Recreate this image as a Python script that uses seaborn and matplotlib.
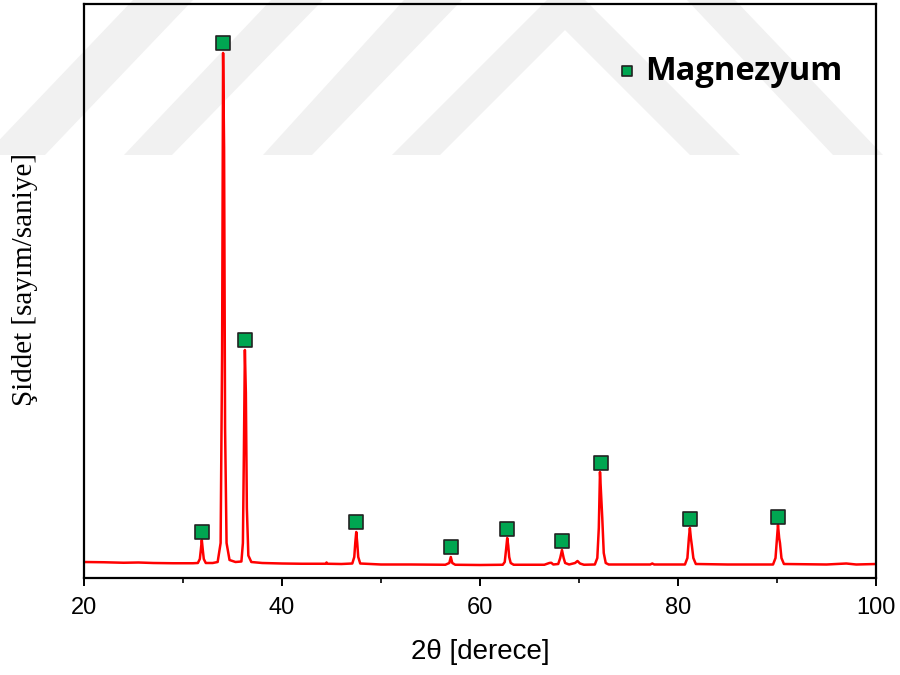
import seaborn as sns
import pandas as pd
import matplotlib.pyplot as plt
from matplotlib.patches import Polygon
from matplotlib.ticker import MultipleLocator

# XRD trace (2theta in degrees, counts per second)
two_theta = [20.0, 22.0, 24.0, 25.5, 27.0, 29.0, 31.0, 31.5, 31.7, 31.8, 31.9, 32.0, 32.1, 32.3,
             33.0, 33.5, 33.8, 33.95, 34.05, 34.15, 34.25, 34.4, 34.7, 35.3, 35.9, 36.05, 36.15,
             36.25, 36.35, 36.45, 36.6, 36.9, 38.0, 40.0, 42.0, 44.4, 44.5, 44.6, 46.0, 47.1,
             47.3, 47.4, 47.5, 47.6, 47.7, 47.9, 50.0, 53.0, 56.5, 56.9, 57.05, 57.2, 57.5, 60.0,
             62.3, 62.5, 62.65, 62.75, 62.85, 62.95, 63.1, 63.4, 66.5, 67.0, 67.2, 67.4, 67.9,
             68.1, 68.28, 68.45, 68.6, 69.0, 69.6, 69.85, 70.1, 70.5, 71.6, 71.85, 72.0, 72.12,
             72.25, 72.35, 72.5, 72.7, 73.0, 77.2, 77.4, 77.6, 80.7, 80.95, 81.1, 81.2, 81.3,
             81.4, 81.55, 81.8, 85.0, 89.6, 89.85, 90.0, 90.1, 90.22, 90.3, 90.45, 90.7, 95.0,
             97.0, 98.0, 100.0]
intensity = [320, 315, 305, 310, 300, 295, 295, 300, 380, 560, 760, 560, 380, 300,
             300, 320, 700, 4500, 10500, 8600, 3000, 700, 360, 320, 330, 700, 2500,
             4560, 3700, 1400, 450, 320, 300, 290, 285, 285, 310, 285, 280, 290,
             420, 700, 920, 700, 420, 290, 270, 270, 265, 300, 420, 300, 265, 260,
             265, 320, 600, 800, 650, 420, 300, 265, 265, 300, 305, 270, 280,
             400, 560, 400, 300, 270, 300, 340, 290, 265, 270, 400, 1000, 2120,
             1600, 1200, 500, 300, 270, 270, 290, 270, 270, 400, 800, 1000, 800,
             650, 400, 280, 270, 270, 400, 800, 1060, 800, 700, 400, 280, 270,
             290, 270, 280]

# Magnesium peak markers
mg_peaks = [31.9, 34.07, 36.26, 47.47, 57.07, 62.73, 68.28, 72.22, 81.21, 90.1]
mg_marks = [920, 10700, 4760, 1120, 620, 980, 740, 2300, 1180, 1220]

df = pd.DataFrame({'2theta': two_theta, 'I': intensity})
peaks = pd.DataFrame({'2theta': mg_peaks, 'I': mg_marks})

sns.set_style('ticks')
plt.rcParams['font.family'] = ['Liberation Sans', 'DejaVu Sans']

fig = plt.figure(figsize=(9, 6.75), dpi=100)
ax = fig.add_axes([84 / 900, 97 / 675, 792 / 900, 574 / 675])
ax.set_facecolor('none')

# faint watermark stripes behind the plot (pixel coords, y from top)
W, H = 900, 675
shapes = [
    [(133, 0), (193, 0), (45, 155), (-15, 155)],
    [(271, 0), (323, 0), (172, 155), (124, 155)],
    [(404, 0), (462, 0), (312, 155), (263, 155)],
    [(392, 155), (566, -19), (740, 155), (690, 155), (565, 30), (440, 155)],
    [(687, 0), (735, 0), (883, 155), (833, 155)],
]
for s in shapes:
    pts = [(x / W, 1 - y / H) for x, y in s]
    fig.patches.append(Polygon(pts, closed=True, transform=fig.transFigure,
                               facecolor='#f1f1f1', edgecolor='none', zorder=-5))

sns.lineplot(data=df, x='2theta', y='I', ax=ax, color='#ff0000', linewidth=1.8, zorder=2)
sns.scatterplot(data=peaks, x='2theta', y='I', ax=ax, marker='s', s=90, color='#00a651',
                edgecolor='#222222', linewidth=1.2, zorder=3, label='Magnezyum')

ax.set_xlim(20, 100)
ax.set_ylim(0, 11480)
ax.xaxis.set_major_locator(MultipleLocator(20))
ax.xaxis.set_minor_locator(MultipleLocator(10))
ax.set_yticks([])
ax.tick_params(axis='x', which='major', direction='out', length=6, width=1.4,
               labelsize=17, pad=8, colors='black')
ax.tick_params(axis='x', which='minor', direction='out', length=3.5, width=1.4)
for sp in ax.spines.values():
    sp.set_visible(True)
    sp.set_color('black')
    sp.set_linewidth(1.6)

ax.set_xlabel('2θ [derece]', fontsize=20, labelpad=14, color='black')
ax.set_ylabel('Şiddet [sayım/saniye]', fontsize=21, color='black',
              family=['Liberation Serif', 'DejaVu Serif'])
ax.yaxis.set_label_coords(-0.058, 0.52)

leg = ax.legend(loc='center left', bbox_to_anchor=(0.6755, 0.883), frameon=False,
                prop={'family': 'Open Sans', 'weight': 'bold', 'size': 23.5},
                handlelength=0.5, handletextpad=0.3, borderpad=0, borderaxespad=0,
                markerscale=0.8, labelcolor='black')

fig.savefig('out.png', dpi=100)
